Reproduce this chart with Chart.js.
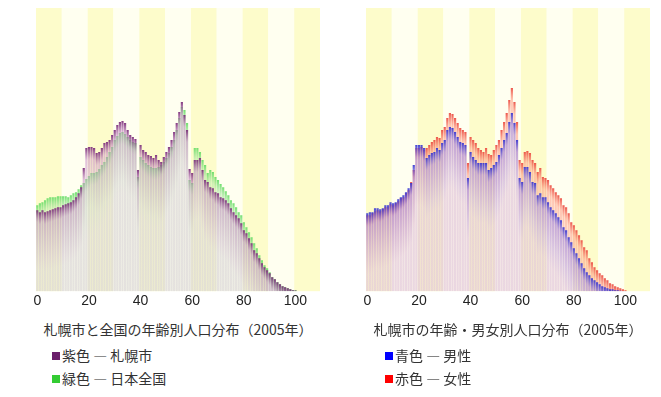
<!DOCTYPE html>
<html lang="ja">
<head>
<meta charset="utf-8">
<title>札幌市の年齢別人口分布（2005年）</title>
<script src="https://cdn.jsdelivr.net/npm/chart.js@4.4.1/dist/chart.umd.min.js"></script>
<style>
    body { margin: 0; background: #fff; font-family: "Noto Sans CJK JP", sans-serif; color: #333; }
    .panel { position: absolute; top: 0; width: 330px; height: 397px; }
    .panel canvas { position: absolute; left: 0; top: 0; }
    .caption { position: absolute; top: 319px; left: 0; width: 356px; text-align: center; font-size: 14px; white-space: nowrap; }
    .legend { position: absolute; top: 344px; font-size: 14px; line-height: 23px; white-space: nowrap; }
    .sw { display: inline-block; width: 8px; height: 8px; margin-right: 2px; vertical-align: 1px; }
</style>
</head>
<body>

<div class="panel" style="left:0">
    <canvas id="ageChart" width="340" height="312"></canvas>
    <div class="caption">札幌市と全国の年齢別人口分布（2005年）</div>
    <div class="legend" style="left:52px">
        <div><span class="sw" style="background:#6b1f6b"></span>紫色 — 札幌市</div>
        <div><span class="sw" style="background:#33cc33"></span>緑色 — 日本全国</div>
    </div>
</div>

<div class="panel" style="left:330px">
    <canvas id="sexChart" width="340" height="312"></canvas>
    <div class="caption">札幌市の年齢・男女別人口分布（2005年）</div>
    <div class="legend" style="left:55px">
        <div><span class="sw" style="background:#0000ff"></span>青色 — 男性</div>
        <div><span class="sw" style="background:#ff0000"></span>赤色 — 女性</div>
    </div>
</div>

<script>
// 年齢 0〜109（目盛りは20歳ごと、データは100歳まで）
const ages = Array.from({ length: 110 }, (_, i) => String(i));

// 相対人口（縦軸の目盛りなし・同じ尺度）
const sapporo = [
    81, 79, 81, 79, 80, 81, 82, 83, 84, 84,
    86, 87, 88, 89, 91, 94, 98, 104, 123, 143,
    144, 144, 143, 138, 139, 143, 148, 149, 151, 156,
    161, 166, 169, 170, 168, 161, 156, 154, 152, 121,
    146, 141, 139, 136, 135, 133, 136, 131, 129, 134,
    139, 144, 151, 159, 168, 179, 189, 176, 161, 122,
    118, 131, 131, 133, 121, 111, 109, 104, 103, 99,
    98, 94, 93, 91, 88, 83, 79, 76, 73, 68,
    61, 58, 53, 48, 41, 38, 33, 28, 24, 21,
    18, 14, 12, 9, 7, 5, 4, 3, 2, 1, 0.7
];
const japan = [
    86, 88, 89, 91, 93, 94, 94, 94, 95, 95,
    95, 95, 94, 96, 98, 99, 102, 106, 108, 112,
    115, 118, 118, 119, 122, 126, 129, 134, 139, 144,
    151, 155, 158, 159, 157, 154, 151, 149, 148, 114,
    134, 131, 128, 126, 124, 123, 123, 124, 126, 129,
    133, 138, 144, 151, 161, 173, 184, 181, 168, 111,
    108, 143, 143, 139, 131, 126, 118, 121, 119, 114,
    111, 107, 104, 100, 96, 91, 88, 84, 79, 76,
    69, 64, 59, 54, 48, 43, 36, 31, 26, 23,
    19, 14, 12, 9, 7, 5, 4, 3, 2, 1, 1
];
const male = [
    78, 79, 79, 83, 83, 82, 83, 86, 86, 89,
    88, 89, 92, 94, 96, 99, 103, 108, 126, 146,
    146, 146, 143, 133, 136, 138, 139, 143, 141, 148,
    151, 161, 164, 163, 159, 154, 149, 148, 146, 113,
    139, 134, 131, 128, 128, 128, 128, 121, 123, 126,
    129, 136, 143, 151, 158, 169, 178, 168, 151, 113,
    109, 124, 124, 119, 109, 108, 96, 98, 94, 94,
    89, 84, 81, 78, 74, 71, 64, 61, 54, 49,
    43, 38, 33, 28, 23, 19, 16, 13, 11, 9,
    7, 5, 4, 3, 2, 2, 1, 1, 0.5, 0.3, 0.2
];
const female = [
    76, 76, 78, 80, 81, 80, 82, 84, 84, 87,
    86, 88, 90, 93, 94, 98, 101, 109, 121, 143,
    143, 144, 141, 143, 146, 149, 151, 154, 153, 161,
    164, 173, 178, 177, 173, 168, 163, 161, 159, 128,
    154, 151, 148, 143, 141, 139, 143, 137, 136, 141,
    146, 151, 161, 169, 178, 191, 203, 189, 169, 131,
    128, 139, 140, 138, 131, 128, 119, 123, 114, 113,
    111, 106, 103, 99, 96, 93, 86, 84, 78, 69,
    66, 61, 56, 51, 44, 41, 33, 29, 24, 21,
    18, 16, 13, 11, 8, 7, 5, 4, 3, 2, 1
];
const yMax = 283;

// 10歳ごとの背景帯
const bandPlugin = {
    id: 'bands',
    beforeDatasetsDraw(chart) {
        const { ctx, chartArea: a, scales: { x } } = chart;
        const w = x.getPixelForValue(1) - x.getPixelForValue(0);
        ctx.save();
        for (let i = 0; i < 11; i++) {
            const left = x.getPixelForValue(i * 10) - w / 2;
            const right = x.getPixelForValue(i * 10 + 9) + w / 2;
            ctx.fillStyle = i % 2 === 0 ? '#fdfccb' : '#fffff0';
            ctx.fillRect(left, a.top, right - left, a.bottom - a.top);
        }
        ctx.restore();
    }
};

// 棒の上端から下へ色が薄くなるグラデーション
function topFade(top, mid, fill) {
    return (c) => {
        const chart = c.chart;
        if (!chart.chartArea || c.type !== 'data' || c.raw == null) return fill;
        const y = chart.scales.y.getPixelForValue(c.raw);
        const g = chart.ctx.createLinearGradient(0, y, 0, y + 60);
        g.addColorStop(0, top);
        g.addColorStop(0.2, mid);
        g.addColorStop(1, fill);
        return g;
    };
}

function makeChart(id, datasets) {
    return new Chart(document.getElementById(id), {
        type: 'bar',
        data: { labels: ages, datasets },
        options: {
            responsive: false,
            animation: false,
            layout: { padding: { left: 36, right: 20, top: 8, bottom: 0 } },
            datasets: { bar: { grouped: false, barPercentage: 1, categoryPercentage: 0.85, borderWidth: 0 } },
            plugins: { legend: { display: false }, tooltip: { enabled: false } },
            scales: {
                x: {
                    grid: { display: false, drawTicks: false },
                    border: { display: false },
                    ticks: {
                        autoSkip: false,
                        maxRotation: 0,
                        padding: 2,
                        color: '#222',
                        font: { family: '"Liberation Sans", Arial, sans-serif', size: 14 },
                        callback: (v) => (v % 20 === 0 && v <= 100 ? String(v) : '')
                    }
                },
                y: { display: false, min: 0, max: yMax }
            }
        },
        plugins: [bandPlugin]
    });
}

makeChart('ageChart', [
    {
        label: '札幌市',
        data: sapporo,
        backgroundColor: topFade('rgba(120,40,120,0.9)', 'rgba(200,140,200,0.55)', 'rgba(222,208,222,0.45)')
    },
    {
        label: '日本全国',
        data: japan,
        backgroundColor: topFade('rgba(100,220,100,0.9)', 'rgba(175,230,165,0.55)', 'rgba(208,222,202,0.45)')
    }
]);

makeChart('sexChart', [
    {
        label: '男性',
        data: male,
        backgroundColor: topFade('rgba(50,50,210,0.9)', 'rgba(150,130,230,0.55)', 'rgba(215,198,232,0.4)')
    },
    {
        label: '女性',
        data: female,
        backgroundColor: topFade('rgba(235,70,60,0.9)', 'rgba(255,160,135,0.6)', 'rgba(238,190,195,0.45)')
    }
]);
</script>
</body>
</html>
